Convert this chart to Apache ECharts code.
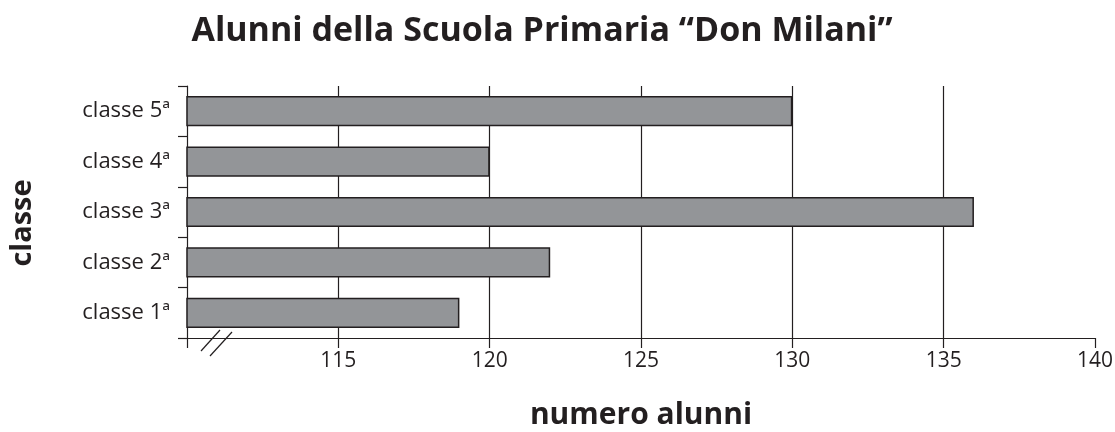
<!DOCTYPE html>
<html>
<head>
<meta charset="utf-8">
<script src="https://cdn.jsdelivr.net/npm/echarts@6/dist/echarts.min.js"></script>
<style>
  html, body { margin: 0; padding: 0; background: #fff; }
  #chart { width: 1115px; height: 432px; }
</style>
</head>
<body>
<div id="chart"></div>
<script>
// data
const classi = ['classe 1ª', 'classe 2ª', 'classe 3ª', 'classe 4ª', 'classe 5ª']
const alunni = [119, 122, 136, 120, 130]
const xMin = 110
const xMax = 140
const xStep = 5

const ink = '#231f20'
const font = 'Open Sans'

const chart = echarts.init(document.getElementById('chart'))

chart.setOption({
  animation: false,
  title: {
    text: 'Alunni della Scuola Primaria \u201cDon Milani\u201d',
    left: 537,
    textAlign: 'center',
    top: 9,
    textStyle: { fontFamily: font, fontSize: 34, fontWeight: 'bold', color: ink },
  },
  grid: { left: 187, right: 20, top: 86, bottom: 94, containLabel: false, outerBoundsMode: 'none' },
  xAxis: {
    type: 'value',
    min: xMin,
    max: xMax,
    interval: xStep,
    name: 'numero alunni',
    nameLocation: 'middle',
    nameGap: 62,
    nameTextStyle: { fontFamily: font, fontSize: 30, fontWeight: 'bold', color: ink },
    axisLine: { show: true, lineStyle: { color: ink, width: 1.2 } },
    axisTick: { show: true, length: 10, lineStyle: { color: ink, width: 1.2 } },
    axisLabel: {
      fontFamily: font, fontSize: 21, color: ink, margin: 13,
      formatter: v => (v === xMin ? '' : String(v)),
    },
    splitLine: { show: true, showMinLine: false, showMaxLine: false, lineStyle: { color: ink, width: 1.2 } },
  },
  yAxis: {
    type: 'category',
    data: classi,
    name: 'classe',
    nameLocation: 'middle',
    nameRotate: 90,
    nameGap: 150,
    nameTextStyle: { fontFamily: font, fontSize: 29, fontWeight: 'bold', color: ink, padding: [0, 22, 0, 0] },
    axisLine: { show: true, lineStyle: { color: ink, width: 1.2 } },
    axisTick: { show: true, length: 9, lineStyle: { color: ink, width: 1.2 } },
    axisLabel: { fontFamily: font, fontSize: 22, color: ink, margin: 17 },
    splitLine: { show: false },
  },
  series: [{
    type: 'bar',
    data: alunni,
    barCategoryGap: '40%',
    itemStyle: { color: '#939598', borderColor: ink, borderWidth: 1.5 },
  }],
})

// axis-break marks just under the start of the x axis
const [gx] = chart.convertToPixel({ gridIndex: 0 }, [xMin, 0])
const axisY = 432 - 94
chart.setOption({
  graphic: [
    { type: 'line', shape: { x1: gx + 14, y1: axisY + 13, x2: gx + 33, y2: axisY - 8 }, style: { stroke: ink, lineWidth: 1.2 } },
    { type: 'line', shape: { x1: gx + 23, y1: axisY + 18, x2: gx + 45, y2: axisY - 6 }, style: { stroke: ink, lineWidth: 1.2 } },
  ],
})
</script>
</body>
</html>
